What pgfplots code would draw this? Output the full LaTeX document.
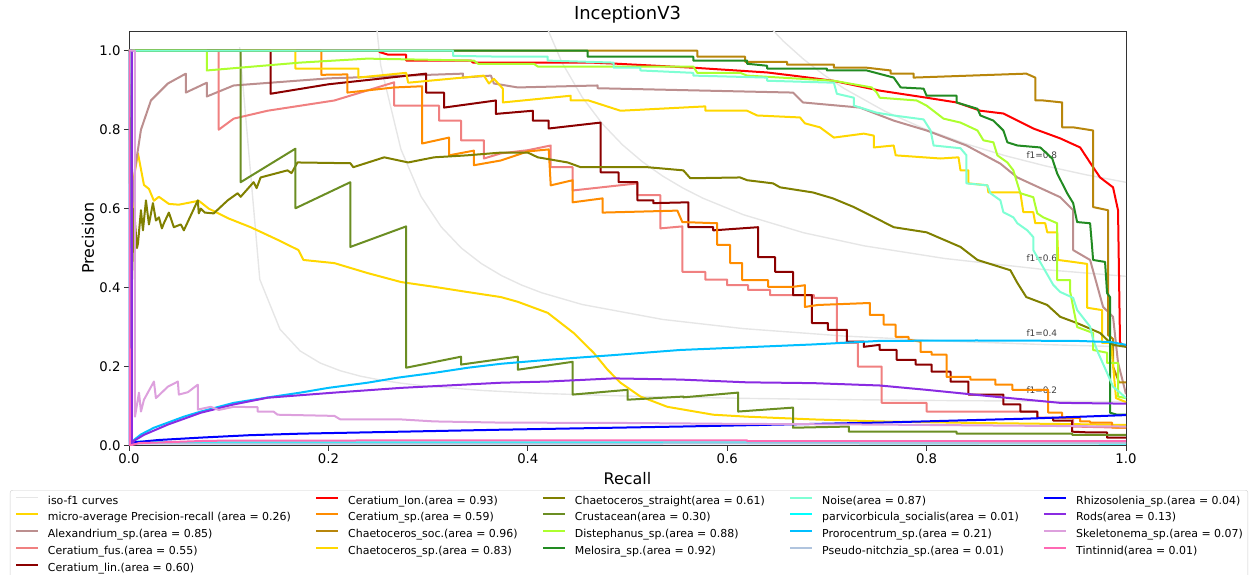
\documentclass[border=0pt]{standalone}
\usepackage{fontspec}
\setmainfont{DejaVu Sans}
\usepackage{pgfplots}
\pgfplotsset{compat=1.18}

% matplotlib named colours
\definecolor{isogray}{HTML}{E6E6E6}
\definecolor{cgold}{HTML}{FFD700}
\definecolor{crosybrown}{HTML}{BC8F8F}
\definecolor{clightcoral}{HTML}{F08080}
\definecolor{cdarkred}{HTML}{8B0000}
\definecolor{cred}{HTML}{FF0000}
\definecolor{cdarkorange}{HTML}{FF8C00}
\definecolor{cdarkgoldenrod}{HTML}{B8860B}
\definecolor{colive}{HTML}{808000}
\definecolor{colivedrab}{HTML}{6B8E23}
\definecolor{cgreenyellow}{HTML}{ADFF2F}
\definecolor{cforestgreen}{HTML}{228B22}
\definecolor{caquamarine}{HTML}{7FFFD4}
\definecolor{ccyan}{HTML}{00FFFF}
\definecolor{cdeepskyblue}{HTML}{00BFFF}
\definecolor{clightsteelblue}{HTML}{B0C4DE}
\definecolor{cblue}{HTML}{0000FF}
\definecolor{cblueviolet}{HTML}{8A2BE2}
\definecolor{cplum}{HTML}{DDA0DD}
\definecolor{chotpink}{HTML}{FF69B4}

\tikzset{
  prline/.style={line width=2bp, line join=round},
  isoline/.style={line width=1.4bp, isogray, line join=round},
  isolabel/.style={anchor=base west, inner sep=0pt, font=\fontsize{9}{11}\selectfont, text=black!75},
}

\begin{document}
\begin{tikzpicture}
\begin{axis}[
  scale only axis, width=997bp, height=414.5bp,
  xmin=0, xmax=1, ymin=0, ymax=1.05,
  xtick={0,0.2,0.4,0.6,0.8,1}, ytick={0,0.2,0.4,0.6,0.8,1},
  tick pos=left, tick align=outside, major tick length=5bp,
  every tick/.style={black!80, line width=0.9bp},
  axis line style={black!80, line width=0.9bp},
  /pgf/number format/.cd, fixed, fixed zerofill, precision=1, assume math mode=true,
  /pgfplots/.cd,
  ticklabel style={font=\fontsize{13.3}{16}\selectfont},
  title={InceptionV3},
  title style={font=\fontsize{18}{21}\selectfont, at={(0.5,1)}, anchor=base, yshift=6bp},
  xlabel={Recall}, ylabel={Precision},
  label style={font=\fontsize{16}{19}\selectfont},
  xlabel style={at={(axis description cs:0.5,0)}, anchor=base, yshift=-38.5bp},
  ylabel style={at={(axis description cs:-0.0411,0.5)}, anchor=center},
  legend columns=5,
  legend cell align=left,
  legend image code/.code={\draw[#1] (0bp,3.5bp) -- (22bp,3.5bp);},
  legend style={at={(-0.1194,-0.1074)}, anchor=north west,
    draw=black!20, rounded corners=2.5bp, fill=white,
    font=\fontsize{11}{13}\selectfont,
    inner xsep=5bp, inner ysep=5.5bp, row sep=5.7bp,
    nodes={inner sep=0bp, text height=8.5bp, text depth=2.5bp},
    /tikz/every odd column/.append style={column sep=8.8bp},
    /tikz/every even column/.append style={column sep=24.5bp}},
]

% iso-f1 curves
\addplot[isoline, forget plot] coordinates {(0.1110,1.009) (0.1312,0.4205) (0.1514,0.2946) (0.1716,0.2396) (0.1918,0.2089) (0.2120,0.1893) (0.2322,0.1756) (0.2525,0.1656) (0.2727,0.1579) (0.2929,0.1519) (0.3535,0.1395) (0.4141,0.1318) (0.5151,0.1241) (0.6161,0.1194) (0.7171,0.1162) (0.8182,0.1139) (0.9192,0.1122) (1.0,0.1111)};
\addplot[isoline, forget plot] coordinates {(0.2322,1.440) (0.2525,0.9628) (0.2727,0.7506) (0.2929,0.6308) (0.3131,0.5539) (0.3333,0.5002) (0.3535,0.4607) (0.3737,0.4303) (0.3939,0.4063) (0.4141,0.3868) (0.4545,0.3572) (0.5353,0.3193) (0.6161,0.2961) (0.7171,0.2773) (0.8182,0.2647) (0.9192,0.2556) (1.0,0.25)};
\addplot[isoline, forget plot] coordinates {(0.3939,1.2585) (0.4141,1.0888) (0.4343,0.9701) (0.4545,0.8825) (0.4747,0.8152) (0.4949,0.7618) (0.5151,0.7184) (0.5353,0.6825) (0.5555,0.6523) (0.5757,0.6264) (0.6161,0.5847) (0.6767,0.5389) (0.7373,0.5058) (0.8182,0.4737) (0.9192,0.4454) (1.0,0.4286)};
\addplot[isoline, forget plot] coordinates {(0.6161,1.1404) (0.6363,1.0771) (0.6565,1.0238) (0.6767,0.9782) (0.6969,0.9389) (0.7171,0.9046) (0.7575,0.8476) (0.7979,0.8021) (0.8383,0.7650) (0.8787,0.7342) (0.9192,0.7082) (0.9596,0.6859) (1.0,0.6667)};
\node[isolabel] at (axis cs:0.9,0.1322) {f1=0.2};
\node[isolabel] at (axis cs:0.9,0.2756) {f1=0.4};
\node[isolabel] at (axis cs:0.9,0.4654) {f1=0.6};
\node[isolabel] at (axis cs:0.9,0.7282) {f1=0.8};

% micro-average
\addplot[prline, cgold, forget plot] coordinates {(0,1) (0.003,1) (0.003,0.55) (0.005,0.68) (0.009,0.74) (0.012,0.70) (0.015,0.66) (0.02,0.65) (0.025,0.62) (0.03,0.63) (0.04,0.612) (0.05,0.61) (0.06,0.615) (0.07,0.62) (0.08,0.60) (0.1,0.575) (0.122,0.553) (0.15,0.52) (0.17,0.495) (0.175,0.47) (0.206,0.462) (0.239,0.437) (0.273,0.414) (0.306,0.402) (0.339,0.389) (0.373,0.376) (0.39,0.364) (0.42,0.336) (0.446,0.285) (0.466,0.235) (0.48,0.192) (0.493,0.159) (0.513,0.124) (0.54,0.098) (0.586,0.078) (0.62,0.073) (0.687,0.066) (0.753,0.061) (0.85,0.057) (0.95,0.054) (1.0,0.052)};
% Alexandrium_sp.
\addplot[prline, crosybrown, forget plot] coordinates {(0,1) (0.002,0.55) (0.006,0.7) (0.012,0.8) (0.022,0.874) (0.039,0.917) (0.057,0.942) (0.057,0.894) (0.078,0.919) (0.078,0.884) (0.105,0.912) (0.2,0.93) (0.335,0.942) (0.335,0.932) (0.363,0.937) (0.366,0.917) (0.39,0.907) (0.47,0.912) (0.47,0.905) (0.666,0.894) (0.676,0.869) (0.733,0.856) (0.767,0.823) (0.8,0.798) (0.84,0.76) (0.874,0.714) (0.891,0.679) (0.934,0.629) (0.947,0.596) (0.947,0.495) (0.964,0.47) (0.977,0.351) (0.987,0.326) (0.992,0.21) (1.0,0.13)};
% Ceratium_fus.
\addplot[prline, clightcoral, forget plot] coordinates {(0,1) (0.09,1) (0.09,0.8) (0.105,0.828) (0.139,0.848) (0.206,0.874) (0.266,0.92) (0.266,0.861) (0.311,0.861) (0.311,0.823) (0.333,0.823) (0.333,0.773) (0.356,0.773) (0.356,0.727) (0.373,0.74) (0.40,0.748) (0.423,0.76) (0.423,0.705) (0.445,0.705) (0.445,0.646) (0.51,0.664) (0.51,0.634) (0.533,0.634) (0.533,0.55) (0.555,0.555) (0.555,0.44) (0.578,0.44) (0.578,0.42) (0.6,0.42) (0.6,0.406) (0.621,0.406) (0.621,0.394) (0.643,0.394) (0.643,0.381) (0.687,0.381) (0.687,0.374) (0.71,0.374) (0.71,0.26) (0.731,0.26) (0.731,0.2) (0.755,0.2) (0.755,0.108) (0.8,0.108) (0.8,0.086) (0.911,0.086) (0.911,0.07) (0.947,0.07) (0.947,0.048) (1.0,0.045)};
% Ceratium_lin.
\addplot[prline, cdarkred, forget plot] coordinates {(0,1) (0.142,1) (0.142,0.891) (0.2,0.915) (0.298,0.942) (0.298,0.894) (0.316,0.894) (0.316,0.856) (0.368,0.874) (0.368,0.84) (0.405,0.848) (0.405,0.823) (0.421,0.823) (0.421,0.803) (0.473,0.818) (0.473,0.692) (0.491,0.692) (0.491,0.667) (0.51,0.667) (0.51,0.621) (0.526,0.621) (0.526,0.614) (0.561,0.616) (0.561,0.553) (0.586,0.553) (0.586,0.545) (0.631,0.553) (0.631,0.477) (0.648,0.477) (0.648,0.44) (0.666,0.44) (0.666,0.381) (0.685,0.381) (0.685,0.31) (0.701,0.31) (0.701,0.293) (0.72,0.293) (0.72,0.263) (0.737,0.263) (0.737,0.25) (0.753,0.255) (0.753,0.242) (0.77,0.242) (0.77,0.217) (0.789,0.217) (0.789,0.205) (0.805,0.205) (0.805,0.187) (0.824,0.187) (0.824,0.162) (0.842,0.162) (0.842,0.129) (0.877,0.129) (0.877,0.104) (0.894,0.104) (0.894,0.086) (0.911,0.086) (0.911,0.07) (0.927,0.07) (0.927,0.063) (0.946,0.063) (0.946,0.035) (0.964,0.033) (0.981,0.033) (0.981,0.02) (1.0,0.02)};
% Ceratium_lon.
\addplot[prline, cred, forget plot] coordinates {(0,1) (0.25,1) (0.252,0.996) (0.26,0.99) (0.278,0.99) (0.278,0.975) (0.343,0.975) (0.345,0.97) (0.463,0.97) (0.49,0.967) (0.566,0.957) (0.64,0.945) (0.666,0.937) (0.706,0.924) (0.753,0.899) (0.8,0.881) (0.83,0.869) (0.854,0.848) (0.877,0.841) (0.907,0.803) (0.934,0.778) (0.954,0.755) (0.967,0.705) (0.974,0.679) (0.987,0.654) (0.992,0.596) (0.994,0.26) (1.0,0.25)};
% Ceratium_sp.
\addplot[prline, cdarkorange, forget plot] coordinates {(0,1) (0.193,1) (0.193,0.939) (0.219,0.94) (0.219,0.894) (0.266,0.907) (0.294,0.91) (0.294,0.765) (0.321,0.78) (0.321,0.735) (0.346,0.747) (0.346,0.71) (0.373,0.722) (0.40,0.745) (0.421,0.75) (0.423,0.659) (0.445,0.672) (0.445,0.616) (0.475,0.626) (0.475,0.59) (0.55,0.595) (0.555,0.566) (0.59,0.563) (0.59,0.508) (0.603,0.508) (0.603,0.462) (0.615,0.462) (0.615,0.419) (0.641,0.419) (0.641,0.402) (0.666,0.402) (0.678,0.406) (0.678,0.351) (0.691,0.356) (0.743,0.361) (0.743,0.331) (0.757,0.331) (0.757,0.306) (0.769,0.306) (0.769,0.275) (0.782,0.275) (0.782,0.268) (0.794,0.263) (0.794,0.237) (0.805,0.237) (0.805,0.23) (0.82,0.23) (0.82,0.174) (0.844,0.174) (0.844,0.167) (0.869,0.167) (0.869,0.154) (0.886,0.154) (0.886,0.141) (0.922,0.141) (0.922,0.083) (0.936,0.083) (0.936,0.07) (0.954,0.07) (0.954,0.061) (0.964,0.061) (0.964,0.058) (0.986,0.058) (0.986,0.045) (1.0,0.045)};
% Chaetoceros_soc.
\addplot[prline, cdarkgoldenrod, forget plot] coordinates {(0,1) (0.57,1) (0.57,0.985) (0.618,0.985) (0.618,0.972) (0.66,0.972) (0.66,0.965) (0.707,0.965) (0.707,0.957) (0.74,0.957) (0.764,0.95) (0.764,0.942) (0.787,0.942) (0.787,0.932) (0.9,0.942) (0.909,0.932) (0.909,0.874) (0.917,0.874) (0.936,0.869) (0.936,0.806) (0.947,0.806) (0.967,0.798) (0.967,0.604) (0.982,0.596) (0.982,0.28) (0.987,0.27) (0.987,0.2) (0.993,0.16) (1.0,0.16)};
% Chaetoceros_sp.
\addplot[prline, cgold, forget plot] coordinates {(0,1) (0.167,1) (0.167,0.955) (0.23,0.955) (0.23,0.932) (0.278,0.944) (0.28,0.919) (0.356,0.937) (0.361,0.917) (0.366,0.929) (0.375,0.904) (0.375,0.869) (0.443,0.886) (0.443,0.874) (0.461,0.874) (0.493,0.848) (0.578,0.859) (0.578,0.848) (0.62,0.848) (0.63,0.836) (0.673,0.831) (0.678,0.816) (0.693,0.806) (0.707,0.78) (0.737,0.79) (0.747,0.785) (0.747,0.755) (0.767,0.76) (0.769,0.735) (0.814,0.727) (0.832,0.73) (0.834,0.697) (0.842,0.697) (0.842,0.664) (0.861,0.659) (0.862,0.641) (0.894,0.641) (0.897,0.591) (0.907,0.591) (0.909,0.563) (0.919,0.563) (0.921,0.54) (0.931,0.54) (0.932,0.47) (0.947,0.465) (0.961,0.46) (0.961,0.349) (0.976,0.343) (0.976,0.26) (0.985,0.26) (0.99,0.12) (1.0,0.11)};
% Chaetoceros_straight
\addplot[prline, colive, forget plot] coordinates {(0,1) (0.002,0.33) (0.005,0.6) (0.008,0.5) (0.009,0.512) (0.012,0.596) (0.014,0.545) (0.017,0.621) (0.02,0.56) (0.024,0.614) (0.027,0.57) (0.03,0.578) (0.033,0.55) (0.035,0.563) (0.04,0.59) (0.045,0.553) (0.052,0.56) (0.055,0.545) (0.069,0.621) (0.07,0.588) (0.072,0.6) (0.076,0.59) (0.085,0.588) (0.099,0.621) (0.109,0.639) (0.112,0.63) (0.125,0.667) (0.128,0.652) (0.132,0.679) (0.159,0.697) (0.163,0.69) (0.169,0.717) (0.222,0.715) (0.225,0.705) (0.256,0.73) (0.28,0.717) (0.306,0.73) (0.339,0.735) (0.373,0.742) (0.4,0.742) (0.41,0.73) (0.44,0.717) (0.453,0.705) (0.52,0.705) (0.556,0.697) (0.563,0.677) (0.613,0.679) (0.62,0.672) (0.646,0.664) (0.653,0.654) (0.686,0.641) (0.706,0.626) (0.727,0.604) (0.753,0.571) (0.767,0.553) (0.8,0.54) (0.834,0.503) (0.851,0.47) (0.884,0.444) (0.891,0.412) (0.9,0.376) (0.921,0.356) (0.934,0.326) (0.951,0.31) (0.974,0.285) (0.981,0.268) (0.987,0.255) (1.0,0.25)};
% Crustacean
\addplot[prline, colivedrab, forget plot] coordinates {(0,1) (0.112,1) (0.112,0.667) (0.167,0.752) (0.167,0.601) (0.222,0.667) (0.222,0.503) (0.278,0.555) (0.278,0.197) (0.333,0.225) (0.333,0.205) (0.39,0.225) (0.39,0.192) (0.445,0.212) (0.445,0.129) (0.5,0.141) (0.5,0.116) (0.556,0.124) (0.556,0.122) (0.611,0.134) (0.611,0.086) (0.666,0.096) (0.666,0.045) (0.722,0.048) (0.722,0.035) (0.83,0.035) (0.83,0.03) (0.946,0.03) (0.946,0.027) (1.0,0.027)};
% Distephanus_sp.
\addplot[prline, cgreenyellow, forget plot] coordinates {(0,1) (0.078,1) (0.078,0.95) (0.172,0.97) (0.239,0.98) (0.346,0.975) (0.35,0.967) (0.406,0.967) (0.41,0.96) (0.566,0.96) (0.57,0.944) (0.613,0.944) (0.62,0.937) (0.707,0.924) (0.745,0.907) (0.75,0.894) (0.753,0.881) (0.79,0.874) (0.8,0.861) (0.817,0.828) (0.834,0.818) (0.851,0.798) (0.857,0.773) (0.867,0.768) (0.871,0.735) (0.881,0.717) (0.887,0.697) (0.894,0.639) (0.907,0.629) (0.911,0.588) (0.917,0.578) (0.931,0.563) (0.931,0.419) (0.944,0.419) (0.944,0.389) (0.951,0.3) (0.967,0.285) (0.967,0.242) (0.981,0.235) (0.981,0.209) (0.992,0.209) (0.992,0.124) (1.0,0.12)};
% Melosira_sp.
\addplot[prline, cforestgreen, forget plot] coordinates {(0,1) (0.46,1) (0.46,0.985) (0.566,0.985) (0.566,0.975) (0.62,0.975) (0.62,0.967) (0.64,0.962) (0.64,0.955) (0.7,0.955) (0.7,0.95) (0.74,0.95) (0.767,0.932) (0.774,0.907) (0.797,0.904) (0.8,0.886) (0.83,0.886) (0.83,0.869) (0.851,0.853) (0.854,0.836) (0.867,0.823) (0.877,0.798) (0.881,0.768) (0.891,0.76) (0.914,0.755) (0.926,0.727) (0.931,0.689) (0.941,0.639) (0.947,0.614) (0.951,0.566) (0.964,0.563) (0.966,0.503) (0.967,0.47) (0.979,0.465) (0.981,0.386) (0.984,0.376) (0.984,0.083) (0.991,0.078) (1.0,0.078)};
% Noise
\addplot[prline, caquamarine, forget plot] coordinates {(0,1) (0.325,1) (0.325,0.987) (0.373,0.985) (0.42,0.985) (0.42,0.975) (0.486,0.97) (0.486,0.957) (0.513,0.957) (0.513,0.95) (0.566,0.944) (0.566,0.937) (0.64,0.932) (0.64,0.924) (0.707,0.919) (0.71,0.891) (0.727,0.881) (0.727,0.861) (0.75,0.843) (0.767,0.836) (0.797,0.826) (0.804,0.798) (0.807,0.76) (0.834,0.753) (0.84,0.735) (0.84,0.664) (0.861,0.659) (0.864,0.639) (0.874,0.621) (0.877,0.591) (0.887,0.578) (0.891,0.563) (0.901,0.545) (0.907,0.528) (0.907,0.495) (0.927,0.407) (0.934,0.389) (0.947,0.374) (0.951,0.343) (0.964,0.301) (0.967,0.268) (0.972,0.235) (0.981,0.184) (0.987,0.149) (0.994,0.134) (1.0,0.12)};
% parvicorbicula_socialis
\addplot[prline, ccyan, forget plot] coordinates {(0,1) (0.001,0.01) (0.05,0.008) (0.3,0.008) (0.62,0.008) (0.62,0.006) (1.0,0.005)};
% Prorocentrum_sp.
\addplot[prline, cdeepskyblue, forget plot] coordinates {(0,1) (0.001,0.0) (0.003,0.01) (0.012,0.028) (0.025,0.045) (0.039,0.058) (0.055,0.073) (0.072,0.086) (0.105,0.108) (0.14,0.122) (0.172,0.134) (0.2,0.146) (0.239,0.159) (0.27,0.172) (0.306,0.184) (0.34,0.197) (0.373,0.207) (0.42,0.217) (0.486,0.229) (0.553,0.242) (0.62,0.249) (0.686,0.256) (0.753,0.265) (0.85,0.266) (0.95,0.265) (0.985,0.262) (1.0,0.255)};
% Pseudo-nitchzia_sp.
\addplot[prline, clightsteelblue, forget plot] coordinates {(0,1) (0.001,0.005) (0.5,0.005) (1.0,0.006)};
% Rhizosolenia_sp.
\addplot[prline, cblue, forget plot] coordinates {(0,1) (0.001,0.0) (0.005,0.008) (0.03,0.014) (0.072,0.02) (0.12,0.026) (0.172,0.03) (0.273,0.035) (0.373,0.04) (0.553,0.048) (0.753,0.058) (0.9,0.068) (1.0,0.077)};
% Rods
\addplot[prline, cblueviolet, forget plot] coordinates {(0,1) (0.003,1) (0.003,0.0) (0.005,0.012) (0.015,0.027) (0.039,0.053) (0.072,0.083) (0.105,0.104) (0.139,0.121) (0.206,0.134) (0.273,0.146) (0.373,0.159) (0.42,0.162) (0.486,0.17) (0.553,0.167) (0.62,0.16) (0.686,0.158) (0.753,0.152) (0.8,0.141) (0.867,0.124) (0.934,0.108) (1.0,0.106)};
% Skeletonema_sp.
\addplot[prline, cplum, forget plot] coordinates {(0,1) (0.006,1) (0.006,0.073) (0.01,0.134) (0.012,0.086) (0.015,0.116) (0.025,0.162) (0.027,0.12) (0.039,0.149) (0.049,0.162) (0.05,0.129) (0.059,0.135) (0.069,0.154) (0.069,0.091) (0.082,0.098) (0.09,0.09) (0.105,0.098) (0.129,0.097) (0.129,0.086) (0.145,0.086) (0.149,0.078) (0.206,0.075) (0.212,0.066) (0.273,0.066) (0.306,0.061) (0.373,0.058) (0.5,0.057) (0.6,0.055) (0.75,0.053) (0.9,0.05) (1.0,0.048)};
% Tintinnid
\addplot[prline, chotpink, forget plot] coordinates {(0,1) (0.001,0.0) (0.01,0.006) (0.08,0.012) (0.3,0.013) (0.62,0.013) (0.62,0.011) (1.0,0.011)};

% legend, filled row by row
\addlegendimage{isoline}\addlegendentry{iso-f1 curves}
\addlegendimage{prline, cred}\addlegendentry{Ceratium\_lon.(area = 0.93)}
\addlegendimage{prline, colive}\addlegendentry{Chaetoceros\_straight(area = 0.61)}
\addlegendimage{prline, caquamarine}\addlegendentry{Noise(area = 0.87)}
\addlegendimage{prline, cblue}\addlegendentry{Rhizosolenia\_sp.(area = 0.04)}
\addlegendimage{prline, cgold}\addlegendentry{micro-average Precision-recall (area = 0.26)}
\addlegendimage{prline, cdarkorange}\addlegendentry{Ceratium\_sp.(area = 0.59)}
\addlegendimage{prline, colivedrab}\addlegendentry{Crustacean(area = 0.30)}
\addlegendimage{prline, ccyan}\addlegendentry{parvicorbicula\_socialis(area = 0.01)}
\addlegendimage{prline, cblueviolet}\addlegendentry{Rods(area = 0.13)}
\addlegendimage{prline, crosybrown}\addlegendentry{Alexandrium\_sp.(area = 0.85)}
\addlegendimage{prline, cdarkgoldenrod}\addlegendentry{Chaetoceros\_soc.(area = 0.96)}
\addlegendimage{prline, cgreenyellow}\addlegendentry{Distephanus\_sp.(area = 0.88)}
\addlegendimage{prline, cdeepskyblue}\addlegendentry{Prorocentrum\_sp.(area = 0.21)}
\addlegendimage{prline, cplum}\addlegendentry{Skeletonema\_sp.(area = 0.07)}
\addlegendimage{prline, clightcoral}\addlegendentry{Ceratium\_fus.(area = 0.55)}
\addlegendimage{prline, cgold}\addlegendentry{Chaetoceros\_sp.(area = 0.83)}
\addlegendimage{prline, cforestgreen}\addlegendentry{Melosira\_sp.(area = 0.92)}
\addlegendimage{prline, clightsteelblue}\addlegendentry{Pseudo-nitchzia\_sp.(area = 0.01)}
\addlegendimage{prline, chotpink}\addlegendentry{Tintinnid(area = 0.01)}
\addlegendimage{prline, cdarkred}\addlegendentry{Ceratium\_lin.(area = 0.60)}
\end{axis}
\pgfresetboundingbox
\useasboundingbox (-129bp,-129.5bp) rectangle (1130bp,445.5bp);
\end{tikzpicture}
\end{document}
